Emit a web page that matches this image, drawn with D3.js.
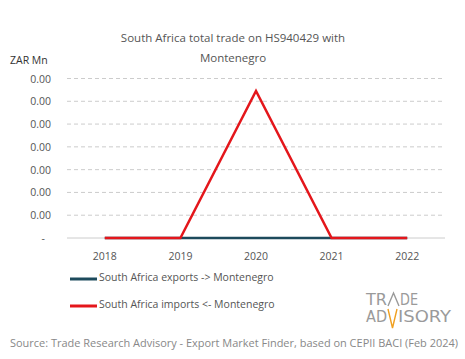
<!DOCTYPE html>
<html><head><meta charset="utf-8">
<script src="https://cdn.jsdelivr.net/npm/d3@7"></script>
<style>body{margin:0;background:#fff}svg{display:block}</style>
</head><body>
<svg id="c" width="465" height="359"></svg>
<script>
const years = ["2018","2019","2020","2021","2022"];
const exportsVals = [0,0,0,0,0];
const importsVals = [0,0,0.00387,0,0];
const yTicks = [0,0.0006,0.0012,0.0018,0.0024,0.003,0.0036,0.0042];
const seriesNames = ["South Africa exports -> Montenegro","South Africa imports <- Montenegro"];
const seriesColors = ["#1d4a5c","#e4161b"];
const titleLines = ["South Africa total trade on HS940429 with","Montenegro"];
const unitLabel = "ZAR Mn";
const sourceText = "Source: Trade Research Advisory - Export Market Finder, based on CEPII BACI (Feb 2024)";

const font = "'Open Sans', Lato, sans-serif";
const svg = d3.select("#c");
const x = d3.scaleBand().domain(years).range([67,445]);
const y = d3.scaleLinear().domain([0,0.0042]).range([238,78.5]);

// title
svg.selectAll("text.title").data(titleLines).join("text")
  .attr("x",233).attr("y",(d,i)=>42+i*20).attr("text-anchor","middle")
  .attr("font-family",font).attr("font-size",11.5).attr("fill","#555").text(d=>d);
svg.append("text").attr("x",10).attr("y",64).attr("font-family",font)
  .attr("font-size",10.5).attr("fill","#333").text(unitLabel);

// grid
const g = svg.append("g");
g.selectAll("line.grid").data(yTicks.slice(1)).join("line")
  .attr("x1",67).attr("x2",445).attr("y1",d=>y(d)).attr("y2",d=>y(d))
  .attr("stroke","#ccc").attr("stroke-dasharray","4,3").attr("stroke-width",1);
g.append("line").attr("x1",67).attr("x2",445).attr("y1",y(0)).attr("y2",y(0))
  .attr("stroke","#ccc").attr("stroke-width",1);
g.selectAll("text.yl").data(yTicks).join("text")
  .attr("x",d=>d===0?45:51).attr("y",d=>y(d)+4).attr("text-anchor","end")
  .attr("font-family",font).attr("font-size",10.5).attr("fill","#555")
  .text(d=>d===0?"-":d3.format(".2f")(d));
g.selectAll("text.xl").data(years).join("text")
  .attr("x",d=>x(d)+x.bandwidth()/2).attr("y",260).attr("text-anchor","middle")
  .attr("font-family",font).attr("font-size",10.5).attr("fill","#555").text(d=>d);

const line = d3.line().x((d,i)=>x(years[i])+x.bandwidth()/2).y(d=>y(d));
[exportsVals, importsVals].forEach((vals,k)=>{
  svg.append("path").datum(vals).attr("d",line).attr("fill","none")
    .attr("stroke",seriesColors[k]).attr("stroke-width",2.5).attr("stroke-linejoin","miter");
});

// legend
seriesNames.forEach((n,i)=>{
  const yy = 279 + i*27;
  svg.append("line").attr("x1",70).attr("x2",97).attr("y1",yy).attr("y2",yy)
    .attr("stroke",seriesColors[i]).attr("stroke-width",3);
  svg.append("text").attr("x",99).attr("y",yy+2).attr("font-family",font)
    .attr("font-size",10.5).attr("fill","#555").text(n);
});

// logo
const lf = "'Liberation Sans Narrow', 'DejaVu Sans Condensed', sans-serif";
const lg = svg.append("g").attr("font-family",lf).attr("fill","#9a9a9a").attr("font-size",15);
const lt = (t,x0,yb,w)=>lg.append("text").attr("x",x0).attr("y",yb).attr("textLength",w).attr("lengthAdjust","spacingAndGlyphs").text(t);
lt("TR",366,305,21); lt("DE",400,305,18);
lt("AD",366,322,21); lt("ISORY",398,322,53);
lg.append("path").attr("d","M388,306 L393.5,293 L399,306").attr("fill","none").attr("stroke","#9a9a9a").attr("stroke-width",1.4);
lg.append("path").attr("d","M388,309 L392.5,328 L397,309").attr("fill","none").attr("stroke","#f0a020").attr("stroke-width",1.4);

svg.append("text").attr("x",10).attr("y",347).attr("font-family",font)
  .attr("font-size",11).attr("fill","#888").attr("textLength",448).attr("lengthAdjust","spacingAndGlyphs").text(sourceText);
</script>
</body></html>
